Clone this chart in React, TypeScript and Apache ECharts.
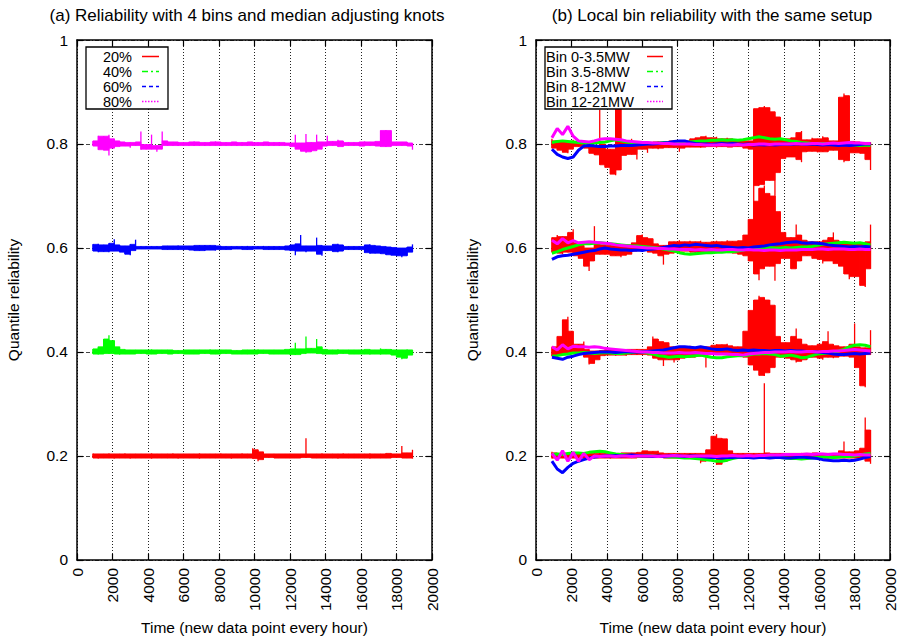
import React, { useEffect, useRef } from "react";
import * as echarts from "echarts";

// sample times: one sample every 300 hours from 900 to 18900 (61 samples)
const T_START = 900;
const T_STEP = 300;
const N = 61;
const TIME = Array.from({ length: N }, (_, i) => T_START + i * T_STEP);

// ---------- (a) left panel: min / max envelope of each quantile per sample ----------
const L20_LO = [
  0.196,0.195,0.196,0.196,0.195,0.196,0.196,0.195,0.196,0.196,
  0.196,0.195,0.196,0.196,0.196,0.196,0.195,0.196,0.196,0.196,
  0.195,0.196,0.196,0.196,0.196,0.196,0.195,0.196,0.196,0.196,
  0.195,0.190,0.193,0.197,0.196,0.196,0.196,0.196,0.196,0.196,
  0.197,0.196,0.196,0.196,0.196,0.196,0.195,0.196,0.196,0.196,
  0.196,0.196,0.195,0.196,0.196,0.196,0.196,0.197,0.196,0.196,
  0.195];
const L20_HI = [
  0.205,0.204,0.204,0.205,0.204,0.204,0.205,0.204,0.204,0.204,
  0.204,0.205,0.204,0.204,0.204,0.205,0.204,0.204,0.204,0.204,
  0.205,0.204,0.204,0.204,0.205,0.204,0.204,0.204,0.205,0.204,
  0.215,0.212,0.208,0.204,0.204,0.204,0.204,0.204,0.204,0.204,
  0.234,0.204,0.204,0.205,0.204,0.204,0.204,0.205,0.204,0.204,
  0.204,0.204,0.205,0.204,0.204,0.205,0.205,0.204,0.219,0.206,
  0.212];
const L40_LO = [
  0.396,0.395,0.396,0.397,0.396,0.395,0.396,0.396,0.396,0.397,
  0.396,0.396,0.396,0.397,0.396,0.396,0.397,0.396,0.396,0.396,
  0.396,0.397,0.396,0.396,0.396,0.397,0.396,0.396,0.396,0.396,
  0.396,0.396,0.397,0.396,0.396,0.396,0.396,0.395,0.394,0.395,
  0.397,0.398,0.397,0.396,0.396,0.396,0.396,0.397,0.396,0.396,
  0.396,0.396,0.395,0.396,0.395,0.396,0.394,0.390,0.386,0.388,
  0.394];
const L40_HI = [
  0.406,0.410,0.425,0.432,0.422,0.410,0.405,0.404,0.404,0.404,
  0.404,0.405,0.404,0.404,0.404,0.404,0.403,0.404,0.404,0.404,
  0.404,0.404,0.405,0.404,0.404,0.404,0.404,0.403,0.404,0.404,
  0.404,0.405,0.404,0.404,0.404,0.404,0.405,0.406,0.418,0.406,
  0.430,0.407,0.425,0.410,0.405,0.404,0.405,0.404,0.404,0.404,
  0.404,0.405,0.405,0.404,0.407,0.405,0.406,0.404,0.404,0.405,
  0.404];
const L60_LO = [
  0.594,0.592,0.593,0.592,0.594,0.592,0.588,0.586,0.595,0.598,
  0.598,0.598,0.598,0.597,0.597,0.597,0.596,0.597,0.596,0.595,
  0.595,0.594,0.596,0.595,0.597,0.597,0.597,0.598,0.597,0.597,
  0.597,0.598,0.597,0.597,0.597,0.597,0.596,0.595,0.586,0.594,
  0.592,0.594,0.588,0.585,0.595,0.593,0.592,0.594,0.597,0.597,
  0.597,0.591,0.589,0.590,0.589,0.587,0.586,0.585,0.582,0.585,
  0.592];
const L60_HI = [
  0.607,0.608,0.606,0.609,0.617,0.606,0.604,0.607,0.616,0.603,
  0.603,0.603,0.603,0.604,0.604,0.604,0.605,0.604,0.604,0.605,
  0.605,0.606,0.605,0.605,0.604,0.603,0.603,0.603,0.603,0.604,
  0.603,0.603,0.604,0.603,0.603,0.603,0.604,0.606,0.608,0.625,
  0.604,0.604,0.620,0.605,0.604,0.607,0.608,0.606,0.603,0.603,
  0.603,0.606,0.607,0.605,0.604,0.603,0.602,0.601,0.600,0.602,
  0.607];
const L80_LO = [
  0.796,0.789,0.788,0.778,0.792,0.795,0.796,0.793,0.797,0.789,
  0.790,0.790,0.785,0.790,0.797,0.797,0.796,0.797,0.797,0.796,
  0.797,0.796,0.797,0.797,0.796,0.797,0.797,0.796,0.797,0.797,
  0.796,0.797,0.797,0.796,0.797,0.796,0.797,0.795,0.790,0.786,
  0.783,0.785,0.787,0.790,0.796,0.797,0.794,0.795,0.797,0.797,
  0.796,0.796,0.797,0.796,0.795,0.794,0.795,0.797,0.797,0.796,
  0.789];
const L80_HI = [
  0.806,0.816,0.815,0.818,0.810,0.806,0.804,0.803,0.804,0.824,
  0.799,0.818,0.797,0.824,0.806,0.804,0.804,0.803,0.804,0.805,
  0.804,0.803,0.804,0.805,0.804,0.803,0.804,0.804,0.803,0.804,
  0.804,0.803,0.804,0.804,0.803,0.804,0.803,0.802,0.818,0.802,
  0.819,0.803,0.818,0.804,0.816,0.805,0.808,0.806,0.803,0.803,
  0.804,0.805,0.804,0.805,0.826,0.827,0.826,0.804,0.804,0.804,
  0.802];

// ---------- (b) right panel ----------
// Bin 0-3.5MW (red): min / max envelope per sample, one pair per quantile
const R20_LO = [
  0.195,0.196,0.196,0.195,0.196,0.196,0.195,0.196,0.196,0.196,
  0.196,0.195,0.196,0.196,0.196,0.196,0.196,0.197,0.197,0.197,
  0.197,0.196,0.196,0.196,0.195,0.196,0.196,0.195,0.186,0.190,
  0.195,0.183,0.184,0.190,0.196,0.196,0.196,0.196,0.196,0.196,
  0.196,0.195,0.195,0.196,0.195,0.196,0.195,0.196,0.195,0.196,
  0.195,0.196,0.195,0.196,0.196,0.196,0.196,0.196,0.195,0.190,
  0.185];
const R20_HI = [
  0.208,0.206,0.205,0.206,0.205,0.206,0.205,0.206,0.205,0.206,
  0.205,0.206,0.205,0.206,0.206,0.206,0.207,0.210,0.210,0.209,
  0.210,0.206,0.205,0.206,0.205,0.206,0.205,0.206,0.205,0.212,
  0.238,0.242,0.234,0.233,0.210,0.205,0.206,0.205,0.206,0.205,
  0.340,0.206,0.205,0.206,0.205,0.206,0.205,0.206,0.205,0.206,
  0.206,0.205,0.206,0.205,0.210,0.228,0.208,0.210,0.215,0.274,
  0.250];
const R40_LO = [
  0.392,0.392,0.395,0.395,0.398,0.396,0.390,0.376,0.378,0.385,
  0.393,0.394,0.393,0.394,0.393,0.395,0.394,0.395,0.394,0.388,
  0.385,0.373,0.385,0.380,0.385,0.388,0.390,0.390,0.392,0.370,
  0.395,0.396,0.396,0.395,0.395,0.393,0.390,0.375,0.365,0.355,
  0.354,0.360,0.370,0.390,0.388,0.385,0.380,0.382,0.385,0.390,
  0.388,0.385,0.390,0.388,0.390,0.392,0.390,0.370,0.335,0.332,
  0.395];
const R40_HI = [
  0.410,0.430,0.462,0.468,0.440,0.415,0.420,0.405,0.402,0.403,
  0.405,0.406,0.405,0.404,0.406,0.405,0.406,0.405,0.410,0.430,
  0.425,0.420,0.418,0.410,0.408,0.410,0.412,0.408,0.410,0.410,
  0.413,0.415,0.414,0.416,0.412,0.410,0.440,0.480,0.500,0.508,
  0.505,0.500,0.490,0.430,0.418,0.430,0.445,0.425,0.415,0.412,
  0.415,0.420,0.440,0.415,0.412,0.410,0.415,0.455,0.410,0.408,
  0.442];
const R60_LO = [
  0.592,0.590,0.588,0.592,0.585,0.580,0.565,0.556,0.575,0.588,
  0.588,0.585,0.585,0.582,0.586,0.588,0.594,0.595,0.592,0.590,
  0.585,0.568,0.588,0.590,0.592,0.594,0.592,0.590,0.592,0.593,
  0.592,0.590,0.592,0.591,0.590,0.588,0.585,0.575,0.550,0.538,
  0.560,0.565,0.537,0.570,0.580,0.560,0.560,0.575,0.585,0.580,
  0.578,0.570,0.575,0.570,0.565,0.550,0.540,0.545,0.528,0.525,
  0.560];
const R60_HI = [
  0.620,0.625,0.622,0.630,0.636,0.610,0.605,0.600,0.642,0.608,
  0.606,0.605,0.607,0.604,0.606,0.610,0.624,0.626,0.620,0.618,
  0.608,0.605,0.612,0.612,0.615,0.612,0.614,0.612,0.614,0.611,
  0.612,0.614,0.612,0.615,0.613,0.614,0.625,0.655,0.690,0.715,
  0.720,0.705,0.700,0.670,0.630,0.620,0.645,0.625,0.615,0.612,
  0.612,0.615,0.620,0.630,0.615,0.612,0.610,0.610,0.610,0.612,
  0.645];
const R80_LO = [
  0.792,0.788,0.784,0.782,0.790,0.795,0.792,0.782,0.779,0.760,
  0.755,0.742,0.740,0.750,0.778,0.780,0.770,0.790,0.783,0.792,
  0.790,0.792,0.793,0.793,0.785,0.792,0.794,0.794,0.793,0.794,
  0.795,0.793,0.795,0.794,0.794,0.795,0.792,0.790,0.660,0.720,
  0.722,0.730,0.660,0.745,0.772,0.775,0.770,0.765,0.785,0.786,
  0.784,0.785,0.785,0.788,0.770,0.765,0.768,0.783,0.782,0.770,
  0.750];
const R80_HI = [
  0.810,0.806,0.804,0.805,0.808,0.805,0.802,0.798,0.797,0.866,
  0.800,0.790,0.870,0.872,0.805,0.810,0.805,0.806,0.803,0.804,
  0.806,0.804,0.806,0.806,0.806,0.806,0.810,0.812,0.814,0.816,
  0.812,0.814,0.810,0.812,0.810,0.808,0.808,0.806,0.868,0.870,
  0.873,0.870,0.862,0.852,0.810,0.812,0.822,0.825,0.808,0.812,
  0.810,0.815,0.812,0.806,0.890,0.897,0.893,0.805,0.804,0.803,
  0.803];

// Bin 3.5-8MW (green)
const G20 = [
  0.203,0.204,0.203,0.205,0.206,0.206,0.205,0.207,0.208,0.209,
  0.208,0.206,0.204,0.203,0.202,0.201,0.200,0.200,0.201,0.200,
  0.199,0.199,0.198,0.198,0.197,0.196,0.196,0.195,0.194,0.193,
  0.192,0.190,0.190,0.192,0.195,0.197,0.198,0.198,0.197,0.197,
  0.198,0.198,0.197,0.197,0.196,0.195,0.195,0.194,0.195,0.196,
  0.197,0.198,0.198,0.197,0.198,0.199,0.199,0.200,0.202,0.204,
  0.205];
const G40 = [
  0.392,0.393,0.395,0.396,0.398,0.398,0.399,0.398,0.397,0.398,
  0.399,0.398,0.397,0.397,0.398,0.399,0.401,0.400,0.398,0.396,
  0.393,0.392,0.390,0.391,0.392,0.391,0.392,0.393,0.394,0.392,
  0.390,0.389,0.389,0.391,0.392,0.393,0.393,0.394,0.396,0.396,
  0.397,0.396,0.395,0.392,0.393,0.394,0.392,0.389,0.390,0.393,
  0.396,0.397,0.398,0.400,0.402,0.405,0.410,0.413,0.414,0.413,
  0.410];
const G60 = [
  0.590,0.593,0.597,0.600,0.603,0.606,0.608,0.608,0.609,0.610,
  0.609,0.608,0.607,0.606,0.605,0.604,0.604,0.603,0.602,0.601,
  0.600,0.598,0.596,0.594,0.591,0.589,0.588,0.589,0.590,0.591,
  0.591,0.592,0.592,0.593,0.593,0.594,0.596,0.598,0.600,0.601,
  0.600,0.601,0.600,0.600,0.601,0.600,0.601,0.602,0.602,0.603,
  0.605,0.607,0.608,0.609,0.610,0.611,0.610,0.609,0.610,0.608,
  0.606];
const G80 = [
  0.803,0.805,0.806,0.805,0.804,0.803,0.802,0.801,0.802,0.803,
  0.804,0.806,0.808,0.806,0.804,0.803,0.802,0.803,0.802,0.801,
  0.802,0.803,0.802,0.803,0.804,0.803,0.804,0.805,0.806,0.806,
  0.807,0.807,0.808,0.807,0.808,0.807,0.808,0.810,0.812,0.814,
  0.812,0.810,0.809,0.810,0.808,0.806,0.805,0.803,0.802,0.801,
  0.800,0.801,0.800,0.799,0.800,0.800,0.799,0.798,0.797,0.798,
  0.797];

// Bin 8-12MW (blue)
const B20 = [
  0.190,0.175,0.168,0.178,0.186,0.190,0.193,0.196,0.198,0.199,
  0.200,0.200,0.201,0.200,0.201,0.202,0.201,0.200,0.200,0.199,
  0.200,0.199,0.200,0.201,0.200,0.199,0.200,0.200,0.199,0.198,
  0.197,0.197,0.196,0.197,0.197,0.198,0.197,0.197,0.196,0.197,
  0.197,0.196,0.197,0.197,0.196,0.196,0.197,0.198,0.197,0.196,
  0.195,0.193,0.192,0.191,0.191,0.192,0.191,0.192,0.194,0.197,
  0.199];
const B40 = [
  0.390,0.388,0.386,0.390,0.392,0.395,0.397,0.398,0.399,0.400,
  0.400,0.400,0.399,0.400,0.401,0.400,0.400,0.400,0.401,0.402,
  0.403,0.404,0.406,0.408,0.410,0.410,0.409,0.408,0.410,0.408,
  0.406,0.405,0.405,0.406,0.404,0.403,0.404,0.403,0.404,0.403,
  0.403,0.402,0.403,0.403,0.402,0.403,0.402,0.402,0.401,0.401,
  0.400,0.399,0.398,0.396,0.395,0.395,0.396,0.397,0.396,0.397,
  0.398];
const B60 = [
  0.578,0.583,0.585,0.586,0.588,0.590,0.592,0.594,0.595,0.598,
  0.600,0.598,0.597,0.596,0.596,0.595,0.596,0.595,0.597,0.598,
  0.599,0.601,0.603,0.605,0.604,0.606,0.605,0.607,0.606,0.605,
  0.604,0.605,0.603,0.602,0.601,0.600,0.601,0.600,0.602,0.603,
  0.604,0.606,0.607,0.608,0.610,0.611,0.612,0.610,0.609,0.610,
  0.609,0.608,0.606,0.605,0.604,0.603,0.602,0.603,0.602,0.603,
  0.602];
const B80 = [
  0.790,0.780,0.775,0.772,0.775,0.788,0.796,0.797,0.796,0.795,
  0.795,0.796,0.796,0.797,0.797,0.797,0.798,0.799,0.800,0.800,
  0.801,0.802,0.803,0.805,0.806,0.806,0.803,0.801,0.800,0.800,
  0.799,0.800,0.801,0.800,0.801,0.800,0.799,0.800,0.798,0.799,
  0.798,0.799,0.798,0.799,0.800,0.799,0.800,0.800,0.799,0.800,
  0.799,0.798,0.799,0.798,0.797,0.798,0.797,0.798,0.799,0.800,
  0.800];

// Bin 12-21MW (magenta)
const M20 = [
  0.205,0.192,0.210,0.190,0.207,0.190,0.205,0.193,0.200,0.199,
  0.200,0.200,0.199,0.200,0.200,0.199,0.200,0.200,0.200,0.200,
  0.199,0.200,0.200,0.201,0.200,0.200,0.199,0.200,0.200,0.200,
  0.200,0.199,0.200,0.200,0.201,0.200,0.200,0.201,0.200,0.201,
  0.201,0.202,0.202,0.202,0.203,0.203,0.203,0.203,0.204,0.203,
  0.204,0.204,0.203,0.204,0.204,0.203,0.203,0.202,0.203,0.202,
  0.202];
const M40 = [
  0.410,0.404,0.414,0.406,0.411,0.410,0.410,0.409,0.410,0.409,
  0.407,0.406,0.405,0.404,0.403,0.402,0.401,0.400,0.400,0.399,
  0.399,0.398,0.398,0.398,0.399,0.398,0.398,0.399,0.398,0.397,
  0.397,0.396,0.396,0.396,0.395,0.395,0.394,0.396,0.397,0.398,
  0.399,0.399,0.400,0.400,0.400,0.401,0.400,0.400,0.401,0.401,
  0.400,0.401,0.401,0.402,0.402,0.403,0.404,0.405,0.404,0.403,
  0.402];
const M60 = [
  0.615,0.608,0.618,0.610,0.614,0.610,0.611,0.612,0.611,0.610,
  0.609,0.608,0.606,0.605,0.604,0.603,0.602,0.601,0.600,0.600,
  0.599,0.599,0.598,0.598,0.597,0.597,0.597,0.596,0.597,0.596,
  0.597,0.596,0.596,0.597,0.597,0.596,0.596,0.597,0.596,0.596,
  0.595,0.596,0.596,0.595,0.596,0.596,0.596,0.597,0.597,0.597,
  0.598,0.598,0.597,0.598,0.598,0.598,0.597,0.597,0.598,0.597,
  0.597];
const M80 = [
  0.812,0.830,0.818,0.834,0.815,0.806,0.805,0.804,0.806,0.809,
  0.810,0.810,0.809,0.808,0.806,0.805,0.804,0.803,0.803,0.802,
  0.802,0.801,0.801,0.800,0.800,0.800,0.800,0.799,0.799,0.798,
  0.798,0.798,0.799,0.798,0.798,0.799,0.798,0.799,0.799,0.800,
  0.800,0.799,0.800,0.800,0.800,0.800,0.801,0.800,0.800,0.801,
  0.801,0.800,0.801,0.802,0.801,0.802,0.803,0.802,0.802,0.801,
  0.801];

const LEFT_LEGEND = ["20%", "40%", "60%", "80%"];
const RIGHT_LEGEND = ["Bin 0-3.5MW", "Bin 3.5-8MW", "Bin 8-12MW", "Bin 12-21MW"];
const TITLE_A = "(a) Reliability with 4 bins and median adjusting knots";
const TITLE_B = "(b) Local bin reliability with the same setup";
const X_NAME = "Time (new data point every hour)";
const Y_NAME = "Quantile reliability";

const RED = "#ff0000";
const GREEN = "#00ff00";
const BLUE = "#0000ff";
const MAGENTA = "#ff00ff";
const FONT = "Liberation Sans, Arial, Helvetica, sans-serif";
const FS = 15.5;
const FS_LEGEND = 14.5;
const FS_TITLE = 17;

const curve = (v: number[]) => TIME.map((t, i) => [t, v[i]]);

// a min/max envelope: the range common to two neighbouring samples is filled,
// and each sample's own min..max range is drawn as a vertical stroke (noise spikes).
// Everything is positioned through the cartesian axes (api.coord).
function bandSeries(lo: number[], hi: number[], color: string, axis: number) {
  const data = TIME.slice(0, -1).map((t, i) => [t, lo[i], hi[i], TIME[i + 1], lo[i + 1], hi[i + 1]]);
  const last = data.length - 1;
  return {
    type: "custom",
    coordinateSystem: "cartesian2d",
    xAxisIndex: axis,
    yAxisIndex: axis,
    silent: true,
    clip: true,
    encode: { x: [0, 3], y: [1, 2, 4, 5] },
    data,
    renderItem: (params: any, api: any) => {
      const t0 = api.value(0), l0 = api.value(1), h0 = api.value(2);
      const t1 = api.value(3), l1 = api.value(4), h1 = api.value(5);
      const coreLo = Math.max(l0, l1);
      const coreHi = Math.min(h0, h1);
      const a = api.coord([t0, coreLo]);
      const b = api.coord([t1, coreLo]);
      const c = api.coord([t1, coreHi]);
      const d = api.coord([t0, coreHi]);
      const s0 = api.coord([t0, l0]);
      const e0 = api.coord([t0, h0]);
      const children: any[] = [
        { type: "polygon", shape: { points: [a, b, c, d] }, style: { fill: color, stroke: color, lineWidth: 0.8 } },
        { type: "line", shape: { x1: s0[0], y1: s0[1], x2: e0[0], y2: e0[1] }, style: { stroke: color, lineWidth: 1.3 } },
      ];
      if (params.dataIndex === last) {
        const s1 = api.coord([t1, l1]);
        const e1 = api.coord([t1, h1]);
        children.push({ type: "line", shape: { x1: s1[0], y1: s1[1], x2: e1[0], y2: e1[1] }, style: { stroke: color, lineWidth: 1.3 } });
      }
      return { type: "group", children };
    },
  };
}

function lineSeries(data: number[][], color: string, axis: number, width: number) {
  return {
    type: "line", data, xAxisIndex: axis, yAxisIndex: axis,
    symbol: "none", showSymbol: false, silent: true,
    lineStyle: { color, width }, itemStyle: { color },
  };
}

function xAx(grid: number, position: string, main: boolean) {
  return {
    type: "value", gridIndex: grid, position, min: 0, max: 20000, interval: 2000,
    name: main ? X_NAME : "", nameLocation: "middle", nameGap: 54,
    nameTextStyle: { fontSize: FS, color: "#000", fontFamily: FONT },
    axisLine: { show: true, onZero: false, lineStyle: { color: "#000", width: 1.5 } },
    axisTick: { show: true, inside: true, length: 6, lineStyle: { color: "#000", width: 1.2 } },
    axisLabel: {
      show: main, rotate: 90, margin: 8, fontSize: FS, color: "#000", fontFamily: FONT,
      formatter: (v: number) => String(Math.round(v)),
    },
    splitLine: { show: main, lineStyle: { type: [1, 2], color: "#222", width: 1 } },
  };
}

function yAx(grid: number, position: string, main: boolean) {
  return {
    type: "value", gridIndex: grid, position, min: 0, max: 1, interval: 0.2,
    name: main ? Y_NAME : "", nameLocation: "middle", nameGap: 56,
    nameTextStyle: { fontSize: FS, color: "#000", fontFamily: FONT },
    axisLine: { show: true, onZero: false, lineStyle: { color: "#000", width: 1.5 } },
    axisTick: { show: true, inside: true, length: 6, lineStyle: { color: "#000", width: 1.2 } },
    axisLabel: {
      show: main, margin: 9, fontSize: FS, color: "#000", fontFamily: FONT,
      formatter: (v: number) => String(Number(v.toFixed(1))),
    },
    splitLine: { show: main, lineStyle: { type: [4, 2, 1, 2], color: "#444", width: 1 } },
  };
}

function legendGraphic(
  key: string, x: number, y: number, w: number, h: number, labels: string[],
  textX: number, align: string, sx1: number, sx2: number
) {
  const colors = [RED, GREEN, BLUE, MAGENTA];
  const dashes: any[] = [null, [6, 3, 2, 3], [4, 3], [1.5, 1.5]];
  const children: any[] = [
    {
      type: "rect", id: key + "-box", shape: { x, y, width: w, height: h },
      style: { fill: "#fff", stroke: "#000", lineWidth: 1.3 }, z: 100,
    },
  ];
  labels.forEach((lab, i) => {
    const cy = Math.round(y + 8.5 + i * 15) + 0.5;
    children.push({
      type: "text", id: key + "-t" + i, x: textX, y: cy, z: 101,
      style: { text: lab, fontSize: FS_LEGEND, fontFamily: FONT, fill: "#000", align, verticalAlign: "middle" },
    });
    children.push({
      type: "line", id: key + "-l" + i, z: 101,
      shape: { x1: sx1, y1: cy, x2: sx2, y2: cy },
      style: { stroke: colors[i], lineWidth: 1.5, lineDash: dashes[i] },
    });
  });
  return children;
}

export default function App() {
  const ref = useRef<HTMLDivElement>(null);
  useEffect(() => {
    if (!ref.current) return;
    const chart = echarts.init(ref.current, undefined, { renderer: "svg" });
    const series = [
      bandSeries(L20_LO, L20_HI, RED, 0),
      bandSeries(L40_LO, L40_HI, GREEN, 0),
      bandSeries(L60_LO, L60_HI, BLUE, 0),
      bandSeries(L80_LO, L80_HI, MAGENTA, 0),
      bandSeries(R20_LO, R20_HI, RED, 2),
      bandSeries(R40_LO, R40_HI, RED, 2),
      bandSeries(R60_LO, R60_HI, RED, 2),
      bandSeries(R80_LO, R80_HI, RED, 2),
      lineSeries(curve(G20), GREEN, 2, 3),
      lineSeries(curve(G40), GREEN, 2, 3),
      lineSeries(curve(G60), GREEN, 2, 3),
      lineSeries(curve(G80), GREEN, 2, 3),
      lineSeries(curve(B20), BLUE, 2, 3),
      lineSeries(curve(B40), BLUE, 2, 3),
      lineSeries(curve(B60), BLUE, 2, 3),
      lineSeries(curve(B80), BLUE, 2, 3),
      lineSeries(curve(M20), MAGENTA, 2, 3),
      lineSeries(curve(M40), MAGENTA, 2, 3),
      lineSeries(curve(M60), MAGENTA, 2, 3),
      lineSeries(curve(M80), MAGENTA, 2, 3),
    ];
    chart.setOption({
      animation: false,
      backgroundColor: "#fff",
      grid: [
        { left: 77, right: 466, top: 40, bottom: 74 },
        { left: 536, right: 7, top: 40, bottom: 74 },
      ],
      xAxis: [xAx(0, "bottom", true), xAx(0, "top", false), xAx(1, "bottom", true), xAx(1, "top", false)],
      yAxis: [yAx(0, "left", true), yAx(0, "right", false), yAx(1, "left", true), yAx(1, "right", false)],
      series,
      graphic: [
        {
          type: "text", id: "title-a", x: 247, y: 15,
          style: { text: TITLE_A, fontSize: FS_TITLE, fontFamily: FONT, fill: "#000", align: "center", verticalAlign: "middle" },
        },
        {
          type: "text", id: "title-b", x: 712, y: 15,
          style: { text: TITLE_B, fontSize: FS_TITLE, fontFamily: FONT, fill: "#000", align: "center", verticalAlign: "middle" },
        },
        ...legendGraphic("lg-a", 86, 47, 82, 62, LEFT_LEGEND, 132, "right", 142, 159),
        ...legendGraphic("lg-b", 545, 47, 127, 62, RIGHT_LEGEND, 546, "left", 647, 663),
      ],
    });
    return () => chart.dispose();
  }, []);
  return (
    <div
      ref={ref}
      style={{ position: "absolute", left: 0, top: 0, width: 898, height: 640, background: "#fff" }}
    />
  );
}
